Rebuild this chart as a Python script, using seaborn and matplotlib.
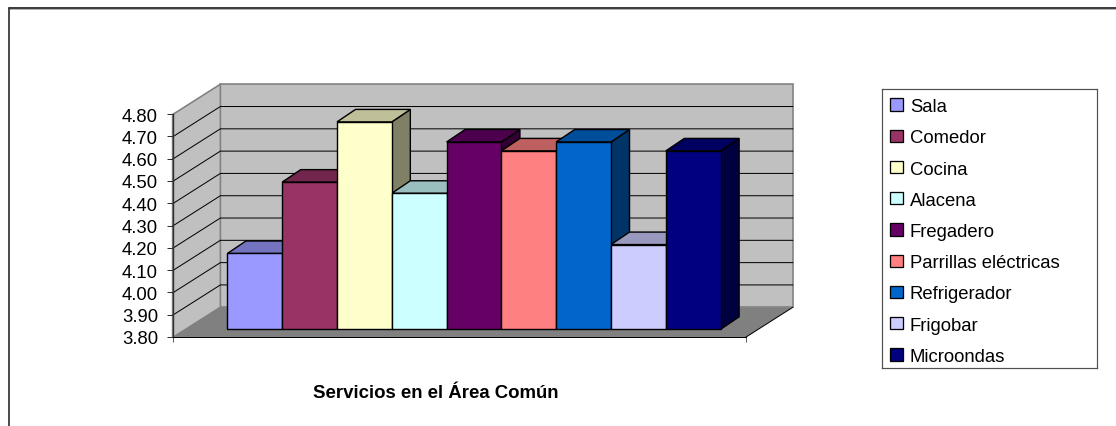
import matplotlib
matplotlib.use("Agg")
import matplotlib.pyplot as plt
import seaborn as sns
from matplotlib.lines import Line2D
from matplotlib.patches import Patch
from matplotlib.colors import to_rgb

servicios = ['Sala', 'Comedor', 'Cocina', 'Alacena', 'Fregadero',
             'Parrillas eléctricas', 'Refrigerador', 'Frigobar', 'Microondas']
promedios = [4.14, 4.46, 4.73, 4.41, 4.64, 4.60, 4.64, 4.18, 4.60]
colores = ['#9999FF', '#993366', '#FFFFCC', '#CCFFFF', '#660066',
           '#FF8080', '#0066CC', '#CCCCFF', '#000080']
marcas_y = [3.8, 3.9, 4.0, 4.1, 4.2, 4.3, 4.4, 4.5, 4.6, 4.7, 4.8]
titulo = 'Servicios en el Área Común'

W, H = 1116, 427
PX = 0.72  # un pixel en puntos a dpi 100

sns.set_style('white')
plt.rcParams['font.family'] = ['Liberation Sans', 'DejaVu Sans']


def caja(x0, y_arriba, x1, y_abajo):
    # rectangulo en pixeles de la imagen -> fracciones de figura
    return [x0 / W, 1 - y_abajo / H, (x1 - x0) / W, (y_abajo - y_arriba) / H]


def sombrear(color, factor):
    return tuple(c * factor for c in to_rgb(color))


fig = plt.figure(figsize=(W / 100, H / 100), dpi=100, facecolor='white')

# marco exterior: solo arriba e izquierda
fig.add_artist(Line2D([8.5 / W, 1], [1 - 9.9 / H] * 2, color='#b0b0b0', lw=PX))
fig.add_artist(Line2D([8.5 / W, 1], [1 - 8.8 / H] * 2, color='black', lw=1.5 * PX))
fig.add_artist(Line2D([9 / W] * 2, [0, 1 - 8.5 / H], color='#303030', lw=1.7 * PX))

# plano de las barras: cada categoria mide 54.8 px, 1.0 en y mide 223 px
ax = fig.add_axes(caja(227.4, 107.3, 720.6, 330.3))
sns.barplot(x=servicios, y=promedios, hue=servicios, palette=colores, width=1,
            dodge=False, legend=False, edgecolor='black', linewidth=1.4 * PX,
            saturation=1, zorder=20, clip_on=False, ax=ax)
ax.set_xlim(-0.5, 8.5)
ax.set_ylim(marcas_y[0], marcas_y[-1])
ax.axis('off')

base = marcas_y[0]
tope = marcas_y[-1]

# las barras arrancan en el minimo del eje, no en cero
for barra in ax.patches:
    barra.set_height(barra.get_height() - base)
    barra.set_y(base)

# profundidad expresada en unidades de datos
X_FRENTE_I, X_FONDO_I = -1.5, -0.628
X_FRENTE_D, X_FONDO_D = 8.95, 9.82
Y_FRENTE, Y_FONDO = -0.037, 0.099
PROF_X, PROF_Y = 0.338, 0.056

# pared del fondo, pared izquierda y piso
ax.fill([X_FONDO_I, X_FONDO_D, X_FONDO_D, X_FONDO_I],
        [base + Y_FONDO, base + Y_FONDO, tope + Y_FONDO, tope + Y_FONDO],
        facecolor='#C0C0C0', edgecolor='#808080', lw=1.6 * PX, clip_on=False, zorder=1)
ax.fill([X_FRENTE_I, X_FONDO_I, X_FONDO_I, X_FRENTE_I],
        [base + Y_FRENTE, base + Y_FONDO, tope + Y_FONDO, tope + Y_FRENTE],
        facecolor='#C0C0C0', edgecolor='#808080', lw=1.6 * PX, clip_on=False, zorder=1)
ax.fill([X_FRENTE_I, X_FRENTE_D, X_FONDO_D, X_FONDO_I],
        [base + Y_FRENTE, base + Y_FRENTE, base + Y_FONDO, base + Y_FONDO],
        facecolor='#808080', edgecolor='none', clip_on=False, zorder=2)
ax.plot([X_FRENTE_D, X_FONDO_D], [base + Y_FRENTE, base + Y_FONDO],
        color='black', lw=PX, clip_on=False, zorder=3)

# lineas de division en las dos paredes
for v in marcas_y[1:-1]:
    ax.plot([X_FRENTE_I, X_FONDO_I, X_FONDO_D], [v + Y_FRENTE, v + Y_FONDO, v + Y_FONDO],
            color='black', lw=PX, clip_on=False, zorder=3)

# caras de arriba y del lado de cada barra, de izquierda a derecha
for i, (barra, color) in enumerate(zip(list(ax.patches), colores)):
    x0 = barra.get_x()
    x1 = x0 + barra.get_width()
    y0 = barra.get_y()
    y1 = y0 + barra.get_height()
    z = 5 + i
    ax.fill([x1, x1 + PROF_X, x1 + PROF_X, x1],
            [y0, y0 + PROF_Y, y1 + PROF_Y, y1],
            facecolor=sombrear(color, 0.5), edgecolor='black', lw=1.4 * PX,
            clip_on=False, zorder=z)
    ax.fill([x0, x0 + PROF_X, x1 + PROF_X, x1],
            [y1, y1 + PROF_Y, y1 + PROF_Y, y1],
            facecolor=sombrear(color, 0.75), edgecolor='black', lw=1.4 * PX,
            clip_on=False, zorder=z)

# ejes de verdad: plano frontal del piso
eje = fig.add_axes(caja(173, 115, 745.7, 338), facecolor='none', zorder=3)
eje.set_xlim(0, 1)
eje.set_ylim(marcas_y[0], marcas_y[-1])
eje.set_yticks(marcas_y, [f'{v:.2f}' for v in marcas_y])
eje.set_xticks([0, 1], ['', ''])
eje.tick_params(axis='y', left=True, length=6 * PX, width=PX, color='#303030',
                labelsize=13.3, pad=9 * PX, labelcolor='black')
eje.tick_params(axis='x', bottom=True, length=5 * PX, width=PX, color='#606060')
for lado in ['top', 'right']:
    eje.spines[lado].set_visible(False)
eje.spines['left'].set_color('#303030')
eje.spines['left'].set_linewidth(1.4 * PX)
eje.spines['bottom'].set_color('black')
eje.spines['bottom'].set_linewidth(PX)

fig.text(436 / W, 1 - 393.5 / H, titulo, ha='center', va='center',
         fontsize=13.4, fontweight='bold', color='black')

# leyenda dentro de su caja
ley = fig.add_axes(caja(882, 90, 1097, 369), facecolor='white', zorder=3)
ley.set_xticks([])
ley.set_yticks([])
for s in ley.spines.values():
    s.set_color('#505050')
    s.set_linewidth(1.2 * PX)
    s.set_visible(True)
manijas = [Patch(facecolor=c, edgecolor='black', linewidth=1.3 * PX) for c in colores]
ley.legend(manijas, servicios, loc='center left', frameon=False, fontsize=13.3,
           handlelength=0.7, handleheight=0.65, handletextpad=0.38,
           labelspacing=0.77, borderpad=0, borderaxespad=0, labelcolor='black',
           bbox_to_anchor=(8 / 215, 0.5 - 3 / 279))

fig.savefig('out.png', dpi=100)
